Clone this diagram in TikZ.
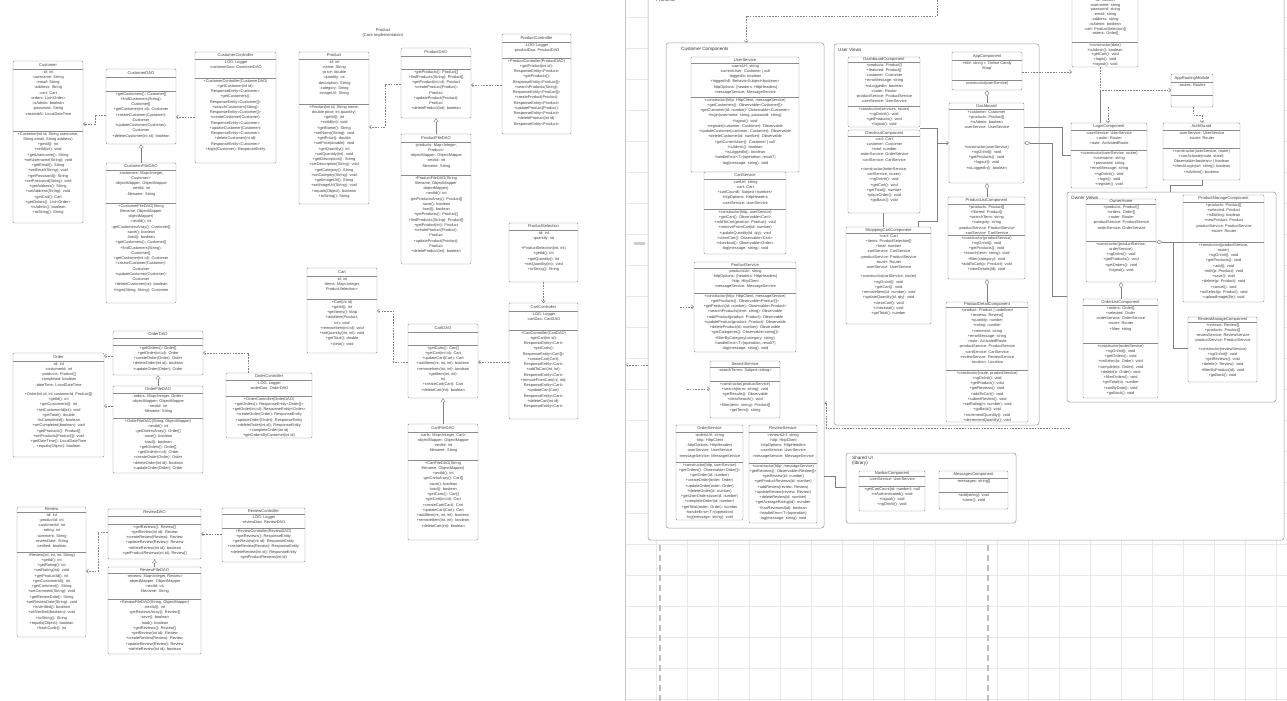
\documentclass[tikz,border=0pt]{standalone}
\usepackage{fontspec}
\setmainfont{Liberation Sans}
\usetikzlibrary{arrows.meta,fit,calc}
\def\memfs{3.9}\def\memls{5.25}
\def\uboxgeom#1,#2,#3,#4\relax{\def\bxa{#1}\def\bya{#2}\def\bxb{#3}\def\byb{#4}}
\newcommand\ubox[7]{%
  \uboxgeom#2\relax
  \node[cls, fit={(\bxa,\bya) (\bxb,\byb)}] (#1) {};
  \draw[sepl] (\bxa,#3) -- (\bxb,#3);
  \if\relax\detokenize{#5}\relax\else
    \node[ttl] at ({(\bxa+\bxb)/2},{(\bya+#3)/2}) {#5};
  \fi
  \node[mem, anchor=north] at ({(\bxa+\bxb)/2},{#3+1.2}) {#6};
  \if\relax\detokenize{#4}\relax\else
    \draw[sepl] (\bxa,#4) -- (\bxb,#4);
    \node[mem, anchor=north] at ({(\bxa+\bxb)/2},{#4+1.2}) {#7};
  \fi
}
\begin{document}
\begin{tikzpicture}[x=1pt,y=-1pt,
 cls/.style={draw=black!45, line width=0.45pt, fill=white, rounded corners=1pt, inner sep=0pt},
 sepl/.style={draw=black!45, line width=0.45pt},
 ttl/.style={font=\fontsize{4.1}{5}\selectfont, text=black!75, inner sep=0pt},
 mem/.style={font=\fontsize{\memfs}{\memls}\selectfont, text=black!75, align=center, inner sep=0pt},
 ctr/.style={draw=black!40, line width=0.5pt, fill=white, rounded corners=2.5pt, inner sep=0pt},
 clabel/.style={font=\fontsize{4.6}{5.4}\selectfont, text=black!80, anchor=north west, inner sep=0pt, align=left},
 dep/.style={draw=black!50, line width=0.45pt, dash pattern=on 1.6pt off 1.2pt, -{Straight Barb[length=2pt,width=4pt]}},
 real/.style={draw=black!50, line width=0.45pt, -{Triangle[open,length=4pt,width=5pt]}},
 agg/.style={draw=black!50, line width=0.45pt, {Diamond[open,length=6pt,width=4.5pt]}-},
 link/.style={draw=black!50, line width=0.45pt},
 gridl/.style={draw=black!9, line width=0.5pt}]
\useasboundingbox (0,0) rectangle (1287,701);
\fill[white] (0,0) rectangle (1287,701);
% ---------- right canvas grid ----------
\foreach \gy in {17,48,...,700} \draw[gridl] (625,\gy) -- (1287,\gy);
\foreach \gx in {656,687,...,1287} \draw[gridl] (\gx,0) -- (\gx,701);
\draw[black!25, line width=1.2pt, dash pattern=on 6pt off 4pt] (660,545) -- (660,701);
\draw[black!25, line width=1.2pt, dash pattern=on 6pt off 4pt] (988,545) -- (988,701);
\draw[blue!25, line width=0.6pt] (625,0) -- (625,701);
\fill[black!20] (634,242) rectangle (645,245);
% ---------- left half ----------
\node[font=\fontsize{4.1}{5}\selectfont, text=black!75, align=center, inner sep=0pt] (coretitle) at (383,33) {Product\\(Core Implementation)};

\ubox{cust}{13,61,83,223}{69}{131}{Customer}
{-id: int\\-username: String\\-email: String\\-address: String\\-cart: Cart\\-orders: List<Order>\\-isAdmin: boolean\\-password: String\\-createdAt: LocalDateTime}
{+Customer(int id, String username,\\String email, String address)\\+getId(): int\\+setId(int): void\\+getUsername(): String\\+setUsername(String): void\\+getEmail(): String\\+setEmail(String): void\\+getPassword(): String\\+setPassword(String): void\\+getAddress(): String\\+setAddress(String): void\\+getCart(): Cart\\+getOrders(): List<Order>\\+isAdmin(): boolean\\+toString(): String}

\ubox{cdao}{106,69,176,144}{77}{91}{CustomerDAO}{}
{+getCustomers(): Customer[]\\+findCustomers(String):\\Customer[]\\+getCustomer(int id): Customer\\+createCustomer(Customer):\\Customer\\+updateCustomer(Customer):\\Customer\\+deleteCustomer(int id): boolean}

\ubox{cfdao}{106,163,176,303}{170}{203}{CustomerFileDAO}
{-customers: Map<Integer,\\Customer>\\-objectMapper: ObjectMapper\\-nextId: int\\-filename: String}
{+CustomerFileDAO(String\\filename, ObjectMapper\\objectMapper)\\-nextId(): int\\-getCustomersArray(): Customer[]\\-save(): boolean\\-load(): boolean\\+getCustomers(): Customer[]\\+findCustomers(String):\\Customer[]\\+getCustomer(int id): Customer\\+createCustomer(Customer):\\Customer\\+updateCustomer(Customer):\\Customer\\+deleteCustomer(int): boolean\\+login(String, String): Customer}

\ubox{cctrl}{195,52,276,163}{59}{78}{CustomerController}
{-LOG: Logger\\-customerDao: CustomerDAO}
{+CustomerController(CustomerDAO)\\+getCustomer(int id):\\ResponseEntity<Customer>\\+getCustomers():\\ResponseEntity<Customer[]>\\+searchCustomers(String):\\ResponseEntity<Customer[]>\\+createCustomer(Customer):\\ResponseEntity<Customer>\\+updateCustomer(Customer):\\ResponseEntity<Customer>\\+deleteCustomer(int id):\\ResponseEntity<Customer>\\+login(Customer): ResponseEntity}

\ubox{prod}{299,52,369,204}{59}{104}{Product}
{-id: int\\-name: String\\-price: double\\-quantity: int\\-description: String\\-category: String\\-imageUrl: String}
{+Product(int id, String name,\\double price, int quantity)\\+getId(): int\\+setId(int): void\\+getName(): String\\+setName(String): void\\+getPrice(): double\\+setPrice(double): void\\+getQuantity(): int\\+setQuantity(int): void\\+getDescription(): String\\+setDescription(String): void\\+getCategory(): String\\+setCategory(String): void\\+getImageUrl(): String\\+setImageUrl(String): void\\+equals(Object): boolean\\+toString(): String}

\ubox{pdao}{401,48,471,118}{56}{69}{ProductDAO}{}
{+getProducts(): Product[]\\+findProducts(String): Product[]\\+getProduct(int id): Product\\+createProduct(Product):\\Product\\+updateProduct(Product):\\Product\\+deleteProduct(int): boolean}

\ubox{pfdao}{401,134,471,264}{142}{175}{ProductFileDAO}
{-products: Map<Integer,\\Product>\\-objectMapper: ObjectMapper\\-nextId: int\\-filename: String}
{+ProductFileDAO(String\\filename, ObjectMapper\\objectMapper)\\-nextId(): int\\-getProductsArray(): Product[]\\-save(): boolean\\-load(): boolean\\+getProducts(): Product[]\\+findProducts(String): Product[]\\+getProduct(int): Product\\+createProduct(Product):\\Product\\+updateProduct(Product):\\Product\\+deleteProduct(int): boolean}

\ubox{pctrl}{502,34,571,134}{42}{58}{ProductController}
{-LOG: Logger\\-productDao: ProductDAO}
{+ProductController(ProductDAO)\\+getProduct(int id):\\ResponseEntity<Product>\\+getProducts():\\ResponseEntity<Product[]>\\+searchProducts(String):\\ResponseEntity<Product[]>\\+createProduct(Product):\\ResponseEntity<Product>\\+updateProduct(Product):\\ResponseEntity<Product>\\+deleteProduct(int id):\\ResponseEntity<Product>}

\ubox{psel}{509,223,578,282}{230}{}{ProductSelection}
{-id: int\\-quantity: int\\[5pt]+ProductSelection(int, int)\\+getId(): int\\+getQuantity(): int\\+setQuantity(int): void\\+toString(): String}{}

\ubox{cartctrl}{509,303,578,419}{311}{330}{CartController}
{-LOG: Logger\\-cartDao: CartDAO}
{+CartController(CartDAO)\\+getCart(int id):\\ResponseEntity<Cart>\\+getCarts():\\ResponseEntity<Cart[]>\\+createCart(Cart):\\ResponseEntity<Cart>\\+addToCart(int, int):\\ResponseEntity<Cart>\\+removeFromCart(int, int):\\ResponseEntity<Cart>\\+updateCart(Cart):\\ResponseEntity<Cart>\\+deleteCart(int id):\\ResponseEntity<Cart>}

\ubox{cart}{307,268,377,353}{276}{299}{Cart}
{-id: int\\-items: Map<Integer,\\ProductSelection>}
{+Cart(int id)\\+getId(): int\\+getItems(): Map\\+addItem(Product,\\int): void\\+removeItem(int id): void\\+setQuantity(int, int): void\\+getTotal(): double\\+clear(): void}

\ubox{cartdao}{408,324,478,398}{332}{345}{CartDAO}{}
{+getCarts(): Cart[]\\+getCart(int id): Cart\\+updateCart(Cart): Cart\\+addItem(int, int, int): boolean\\+removeItem(int, int): boolean\\+getItem(int, int):\\int\\+createCart(Cart): Cart\\+deleteCart(int): boolean}

\ubox{cartfdao}{408,424,478,540}{432}{460}{CartFileDAO}
{-carts: Map<Integer, Cart>\\-objectMapper: ObjectMapper\\-nextId: int\\-filename: String}
{+CartFileDAO(String\\filename, ObjectMapper)\\-nextId(): int\\-getCartsArray(): Cart[]\\-save(): boolean\\-load(): boolean\\+getCarts(): Cart[]\\+getCart(int id): Cart\\+createCart(Cart): Cart\\+updateCart(Cart): Cart\\+addItem(int, int, int): boolean\\+removeItem(int, int): boolean\\+deleteCart(int): boolean}

\ubox{odao}{113,331,203,375}{338}{345}{OrderDAO}{}
{+getOrders(): Order[]\\+getOrder(int id): Order\\+createOrder(Order): Order\\+deleteOrder(int id): boolean\\+updateOrder(Order): Order}

\ubox{ofdao}{113,386,203,473}{393}{418}{OrderFileDAO}
{-orders: Map<Integer, Order>\\-objectMapper: ObjectMapper\\-nextId: int\\-filename: String}
{+OrderFileDAO(String, ObjectMapper)\\-nextId(): int\\-getOrdersArray(): Order[]\\-save(): boolean\\-load(): boolean\\+getOrders(): Order[]\\+getOrder(int id): Order\\+createOrder(Order): Order\\+deleteOrder(int id): boolean\\+updateOrder(Order): Order}

\ubox{order}{13,353,104,457}{361}{}{Order}
{-id: int\\-customerId: int\\-products: Product[]\\-completed: boolean\\-dateTime: LocalDateTime\\[4pt]+Order(int id, int customerId, Product[])\\+getId(): int\\+getCustomerId(): int\\+setCustomerId(int): void\\+getTotal(): double\\+isCompleted(): boolean\\+setCompleted(boolean): void\\+getProducts(): Product[]\\+setProducts(Product[]): void\\+getDateTime(): LocalDateTime\\+equals(Object): boolean}{}

\ubox{octrl}{226,373,312,438}{380}{396}{OrderController}
{-LOG: Logger\\-orderDao: OrderDAO}
{+OrderController(OrderDAO)\\+getOrders(): ResponseEntity<Order[]>\\+getOrder(int id): ResponseEntity<Order>\\+createOrder(Order): ResponseEntity\\+updateOrder(Order): ResponseEntity\\+deleteOrder(int id): ResponseEntity\\+completeOrder(int id)\\+getOrdersByCustomer(int id)}

\ubox{review}{17,507,86,637}{512}{552}{Review}
{-id: int\\-productId: int\\-customerId: int\\-rating: int\\-comment: String\\-reviewDate: String\\-verified: boolean}
{+Review(int, int, int, String)\\+getId(): int\\+getRating(): int\\+setRating(int): void\\+getProductId(): int\\+getCustomerId(): int\\+getComment(): String\\+setComment(String): void\\+getReviewDate(): String\\+setReviewDate(String): void\\+isVerified(): boolean\\+setVerified(boolean): void\\+toString(): String\\+equals(Object): boolean\\+hashCode(): int}

\ubox{rdao}{108,509,201,559}{516}{524}{ReviewDAO}{}
{+getReviews(): Review[]\\+getReview(int id): Review\\+createReview(Review): Review\\+updateReview(Review): Review\\+deleteReview(int id): boolean\\+getProductReviews(int id): Review[]}

\ubox{rfdao}{108,567,201,654}{573}{599}{ReviewFileDAO}
{-reviews: Map<Integer, Review>\\-objectMapper: ObjectMapper\\-nextId: int\\-filename: String}
{+ReviewFileDAO(String, ObjectMapper)\\-nextId(): int\\-getReviewsArray(): Review[]\\-save(): boolean\\-load(): boolean\\+getReviews(): Review[]\\+getReview(int id): Review\\+createReview(Review): Review\\+updateReview(Review): Review\\+deleteReview(int id): boolean}

\ubox{rctrl}{222,508,305,562}{514}{528}{ReviewController}
{-LOG: Logger\\-reviewDao: ReviewDAO}
{+ReviewController(ReviewDAO)\\+getReviews(): ResponseEntity\\+getReview(int id): ResponseEntity\\+createReview(Review): ResponseEntity\\+deleteReview(int id): ResponseEntity\\+getProductReviews(int id)}

% left connectors
\draw[dep] (cdao.west |- 0,115) -- (95,115) |- (cust.east |- 0,124);
\draw[dep] (cctrl.west |- 0,117) -- (cdao.east |- 0,117);
\draw[real] (cfdao.north) -- (cdao.south);
\draw[dep] (pdao.west |- 0,84) -- (385,84) |- (prod.east |- 0,127);
\draw[dep] (pctrl.west |- 0,85) -- (pdao.east |- 0,85);
\draw[real] (pfdao.north) -- (pdao.south);
\draw[dep] (psel.south) -- (cartctrl.north);
\draw[dep] (cartctrl.west |- 0,362) -- (cartdao.east |- 0,362);
\draw[dep] (cartdao.west |- 0,362) -- (393,362) |- (cart.east |- 0,311);
\draw[real] (cartfdao.north) -- (cartdao.south);
\draw[dep] (octrl.north -| 248,0) |- (odao.east |- 0,353);
\draw[dep] (odao.west |- 0,356) -- (order.east |- 0,356);
\draw[real] (ofdao.north) -- (odao.south);
\draw[dep] (ofdao.west |- 0,406) -- (order.east |- 0,406);
\draw[dep] (rctrl.west |- 0,534) -- (rdao.east |- 0,534);
\draw[dep] (rdao.west |- 0,532) -- (98,532) |- (review.east |- 0,571);
\draw[real] (rfdao.north) -- (rdao.south);

% ---------- right half ----------
\node[ctr, fit={(648,-5) (1284,540)}] (front) {};
\node[clabel, anchor=base west] (fronttitle) at (656,1.5) {Frontend};
\node[ctr, fit={(666,43) (824,528)}] (custcomp) {};
\node[clabel] (custcompl) at (681,47.5) {Customer Components};
\node[ctr, fit={(834,44) (1039,425)}] (userv) {};
\node[clabel] (uservl) at (838,47.5) {User Views};
\node[ctr, fit={(1067,192) (1276,402)}] (ownerv) {};
\node[clabel] (ownervl) at (1071,195.5) {Owner Views};
\node[ctr, fit={(846,453) (1016,523)}] (shared) {};
\node[clabel] (sharedl) at (852,456) {Shared UI\\(library)};

\ubox{usrsvc}{691,57,799,172}{63}{97}{UserService}
{-usersUrl: string\\-currentUser: Customer | null\\-loggedIn: boolean\\+loggedIn\$: BehaviorSubject<boolean>\\-httpOptions: \{headers: HttpHeaders\}\\-messageService: MessageService}
{+constructor(http: HttpClient, messageService)\\+getCustomers(): Observable<Customer[]>\\+getCustomer(id: number): Observable<Customer>\\+login(username: string, password: string)\\+logout(): void\\+register(customer: Customer): Observable\\+updateCustomer(customer: Customer): Observable\\+deleteCustomer(id: number): Observable\\+getCurrentUser(): Customer | null\\+isAdmin(): boolean\\+isLoggedIn(): boolean\\-handleError<T>(operation, result?)\\-log(message: string): void}

\ubox{cartsvc}{704,172,786,254}{179}{209}{CartService}
{-cartUrl: string\\-cart: Cart\\+cartCount\$: Subject<number>\\-httpOptions: HttpHeaders\\-userService: UserService}
{+constructor(http, userService)\\+getCart(): Observable<Cart>\\+addToCart(product: Product): void\\+removeFromCart(id: number)\\+updateQuantity(id, qty): void\\+clearCart(): Observable<Cart>\\+checkout(): Observable<Order>\\-log(message: string): void}

\ubox{prodsvc}{694,262,796,352}{268}{293}{ProductService}
{-productsUrl: string\\-httpOptions: \{headers: HttpHeaders\}\\-http: HttpClient\\-messageService: MessageService}
{+constructor(http: HttpClient, messageService)\\+getProducts(): Observable<Product[]>\\+getProduct(id: number): Observable<Product>\\+searchProducts(term: string): Observable\\+addProduct(product: Product): Observable\\+updateProduct(product: Product): Observable\\+deleteProduct(id: number): Observable\\+getCategories(): Observable<string[]>\\+filterByCategory(category: string)\\-handleError<T>(operation, result?)\\-log(message: string): void}

\ubox{srchsvc}{710,361,780,418}{367}{381}{SearchService}
{-searchTerms: Subject<string>}
{+constructor(productService)\\+search(term: string): void\\+getResults(): Observable\\+clearSearch(): void\\+filter(term: string): Product[]\\+getTerm(): string}

\ubox{ordsvc}{676,425,743,520}{432}{462}{OrderService}
{-ordersUrl: string\\-http: HttpClient\\-httpOptions: HttpHeaders\\-userService: UserService\\-messageService: MessageService}
{+constructor(http, userService)\\+getOrders(): Observable<Order[]>\\+getOrder(id: number)\\+createOrder(order: Order)\\+updateOrder(order: Order)\\+deleteOrder(id: number)\\+getUserOrders(userId: number)\\+completeOrder(id: number)\\+getTotal(order: Order): number\\-handleError<T>(operation)\\-log(message: string): void}

\ubox{revsvc}{749,425,817,523}{432}{463}{ReviewService}
{-reviewsUrl: string\\-http: HttpClient\\-httpOptions: HttpHeaders\\-userService: UserService\\-messageService: MessageService}
{+constructor(http, messageService)\\+getReviews(): Observable<Review[]>\\+getReview(id: number)\\+getProductReviews(id: number)\\+addReview(review: Review)\\+updateReview(review: Review)\\+deleteReview(id: number)\\+getAverageRating(id): number\\+hasReviewed(id): boolean\\-handleError<T>(operation)\\-log(message: string): void}

\ubox{dashc}{848,57,920,127}{62}{106}{DashboardComponent}
{+products: Product[]\\+featured: Product[]\\-customer: Customer\\+errorMessage: string\\+isLoggedIn: boolean\\-router: Router\\-productService: ProductService\\-userService: UserService}
{+constructor(services, router)\\+ngOnInit(): void\\+getProducts(): void\\+logout(): void}

\ubox{checkc}{848,130,920,213}{136}{}{CheckoutComponent}
{-cart: Cart\\-customer: Customer\\+total: number\\-orderService: OrderService\\-cartService: CartService\\[4pt]+constructor(orderService,\\cartService, router)\\+ngOnInit(): void\\+getCart(): void\\+getTotal(): number\\+placeOrder(): void\\+goBack(): void}{}

\ubox{scartc}{846,227,931,324}{233}{}{ShoppingCartComponent}
{+cart: Cart\\+items: ProductSelection[]\\+total: number\\-cartService: CartService\\-productService: ProductService\\-router: Router\\-userService: UserService\\[4pt]+constructor(cartService, router)\\+ngOnInit(): void\\+getCart(): void\\+removeItem(id: number): void\\+updateQuantity(id, qty): void\\+clearCart(): void\\+checkout(): void\\+getTotal(): number}{}

\ubox{appc}{952,52,1022,90}{60}{80}{AppComponent}
{+title: string = 'Online Candy\\Shop'}
{constructor(userService)}

\ubox{dash}{949,103,1024,183}{109}{}{Dashboard}
{+customer: Customer\\+products: Product[]\\+isAdmin: boolean\\-userService: UserService\\[14pt]+constructor(userService)\\+ngOnInit(): void\\+getProducts(): void\\+logout(): void\\+isLoggedIn(): boolean}{}

\ubox{plist}{948,197,1025,279}{204}{235}{ProductListComponent}
{+products: Product[]\\+filtered: Product[]\\+searchTerm: string\\+category: string\\-productService: ProductService\\-cartService: CartService}
{+constructor(productService)\\+ngOnInit(): void\\+getProducts(): void\\+search(term: string): void\\+filter(category): void\\+addToCart(p: Product): void\\+viewDetails(id): void}

\ubox{pdet}{946,302,1028,422}{307}{370}{ProductDetailComponent}
{+product: Product | undefined\\+reviews: Review[]\\+quantity: number\\+rating: number\\+comment: string\\+errorMessage: string\\-route: ActivatedRoute\\-productService: ProductService\\-cartService: CartService\\-reviewService: ReviewService\\-location: Location}
{+constructor(route, productService)\\+ngOnInit(): void\\+getProduct(): void\\+getReviews(): void\\+addToCart(): void\\+submitReview(): void\\+setRating(n: number): void\\+goBack(): void\\+incrementQuantity(): void\\+decrementQuantity(): void}

\begingroup\def\memls{4.8}
\ubox{usermodel}{1072,-12,1138,67}{-3}{42}{}
{-id: number\\-username: string\\-password: string\\-email: string\\-address: string\\-isAdmin: boolean\\-cart: ProductSelection[]\\-orders: Order[]}
{+constructor(data)\\+isAdmin(): boolean\\+getCart(): void\\+login(): void\\+logout(): void}
\endgroup

\ubox{approut}{1171,74,1213,107}{82}{95}{AppRoutingModule}{-routes: Routes}{}

\ubox{login}{1071,123,1147,188}{130}{150}{LoginComponent}
{-userService: UserService\\-router: Router\\-route: ActivatedRoute}
{+constructor(userService, router)\\+username: string\\+password: string\\+errorMessage: string\\+ngOnInit(): void\\+login(): void\\+register(): void}

\ubox{authg}{1163,123,1240,180}{130}{148}{AuthGuard}
{-userService: UserService\\-router: Router}
{+constructor(userService, router)\\+canActivate(route, state):\\Observable<boolean> | boolean\\+checkLogin(url: string): boolean\\+isAdmin(): boolean}

\ubox{ohome}{1086,199,1156,282}{204}{241}{OwnerHome}
{+products: Product[]\\+orders: Order[]\\-router: Router\\-productService: ProductService\\-orderService: OrderService}
{+constructor(productService,\\orderService)\\+ngOnInit(): void\\+getProducts(): void\\+getOrders(): void\\+logout(): void}

\ubox{pmanage}{1183,195,1264,302}{202}{242}{ProductManageComponent}
{+products: Product[]\\+selected: Product\\+isEditing: boolean\\+newProduct: Product\\-productService: ProductService\\-router: Router}
{+constructor(productService,\\router)\\+ngOnInit(): void\\+getProducts(): void\\+add(): void\\+edit(p: Product): void\\+save(): void\\+delete(p: Product): void\\+cancel(): void\\+onSelect(p: Product): void\\+uploadImage(file): void}

\ubox{olist}{1083,299,1158,398}{305}{343}{OrderListComponent}
{+orders: Order[]\\+selected: Order\\-orderService: OrderService\\-router: Router\\+filter: string}
{+constructor(orderService)\\+ngOnInit(): void\\+getOrders(): void\\+onSelect(o: Order): void\\+complete(o: Order): void\\+delete(o: Order): void\\+filterOrders(): void\\+getTotal(o): number\\+sortByDate(): void\\+goBack(): void}

\ubox{rmanage}{1188,317,1257,382}{322}{}{ReviewManageComponent}
{+reviews: Review[]\\+products: Product[]\\-reviewService: ReviewService\\-productService: ProductService\\[3pt]+constructor(reviewService)\\+ngOnInit(): void\\+getReviews(): void\\+delete(r: Review): void\\+filterByProduct(id): void\\+goBack(): void}{}

\ubox{navc}{859,471,925,511}{476}{486}{NavbarComponent}
{-userService: UserService}
{+getCartCount(id: number): null\\+isAuthenticated(): void\\+logout(): void\\+ngOnInit(): void}

\ubox{msgc}{939,471,1008,509}{478}{492}{MessagesComponent}
{-messages: string[]}
{+add(string): void\\+clear(): void}

% right connectors
\coordinate (topin) at (937,0);
\draw[dep] (topin) |- (746,16) -- (custcomp.north -| 746,0);
\draw[dep] (appc.east |- 0,72) -- (usermodel.west |- 0,72);
\draw[agg] (appc.south -| 987,0) -- (dash.north -| 987,0);
\draw[agg] (dash.south -| 987,0) -- (plist.north -| 987,0);
\draw[agg] (plist.south -| 987,0) -- (pdet.north -| 987,0);
\draw[agg] (dash.east |- 0,143) -- (1052,143) |- (ownerv.west |- 0,296);
\draw[link] (dash.east |- 0,127) -- (1062,127) |- (login.west |- 0,155);
\draw[link] (checkc.south -| 883,0) -- (scartc.north -| 883,0);
\draw[link] (dashc.east |- 0,128) -- (937,128) -- (937,221) -- (918,221) -- (scartc.north -| 918,0);
\draw[link, -{Straight Barb[length=2pt,width=4pt]}] (937,143) -- (dash.west |- 0,143);
\draw[link] (authg.south -| 1202,0) -- (1202,185) -| (ownerv.north -| 1170,0);
\draw[dep] (usermodel.south -| 1100,0) -- (1100,90) -- (approut.west |- 0,90);
\draw[link] (1100,90) -- (login.north -| 1100,0);
\draw[dep] (approut.south -| 1193,0) -- (1193,115) -| (authg.north -| 1202,0);
\draw[dep] (1108,107) -- (login.north -| 1108,0);
\draw[agg] (ohome.east |- 0,242) -- (pmanage.west |- 0,242);
\draw[agg] (ohome.south -| 1121,0) -- (olist.north -| 1121,0);
\draw[link] (1173,242) |- (rmanage.west |- 0,348);
\draw[link] (custcomp.east |- 0,476) -- (835,476) |- (shared.west |- 0,487);
\draw[dep] (1070,428) -- (826,428) -- (826,403) -- (custcomp.east |- 0,403);
\draw[dep] (680,307) -- (prodsvc.west |- 0,307);
\draw[dep] (687,389) -- (srchsvc.west |- 0,389);
\draw[dep] (front.west |- 0,365) -- (626,365);
\end{tikzpicture}
\end{document}
